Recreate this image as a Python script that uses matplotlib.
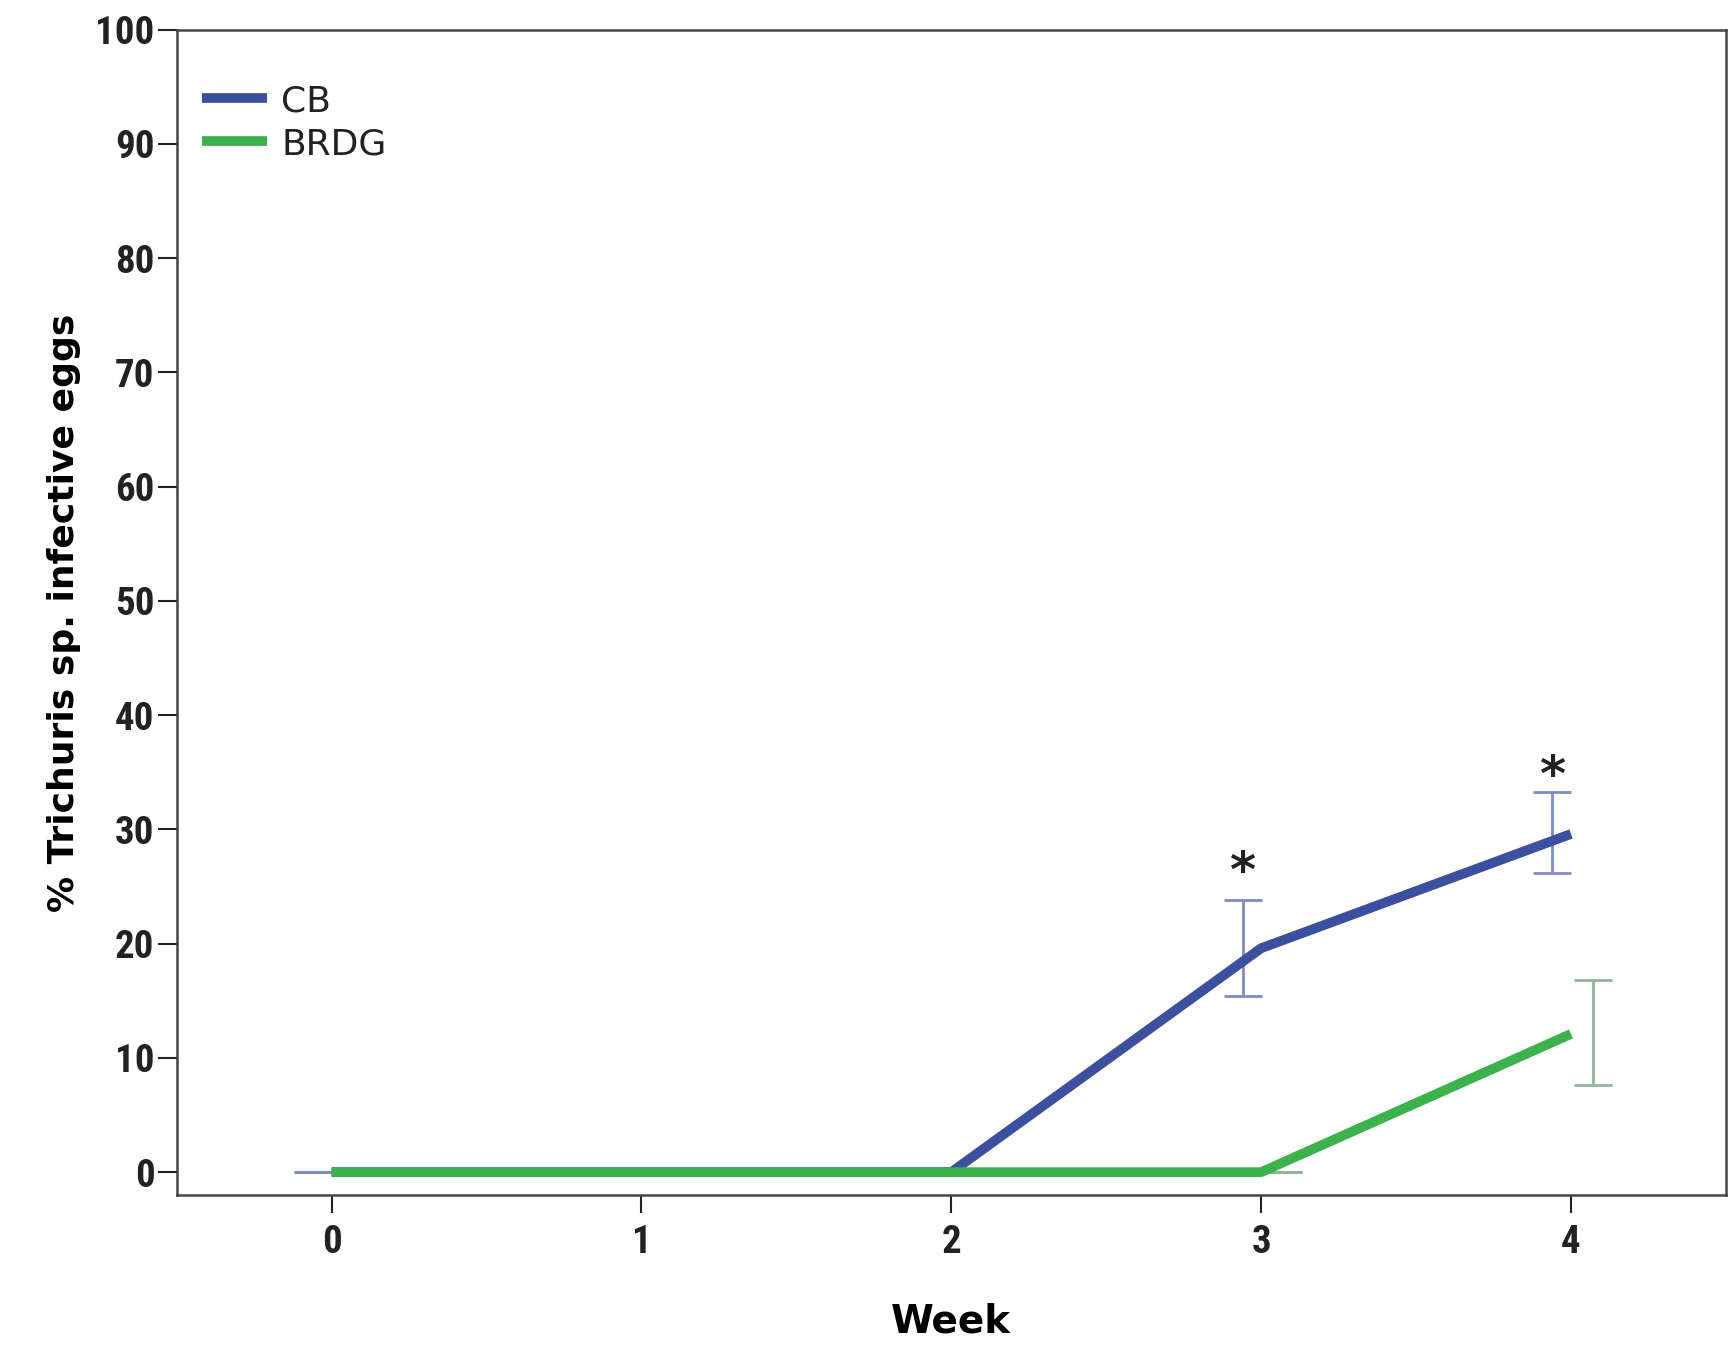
import matplotlib.pyplot as plt
import numpy as np
from matplotlib import font_manager

names = {f.name for f in font_manager.fontManager.ttflist}
narrow = [n for n in ['Liberation Sans Narrow', 'Roboto Condensed',
                      'Open Sans Condensed'] if n in names]
plt.rcParams['font.family'] = ['DejaVu Sans']

weeks = [0, 1, 2, 3, 4]
cb = [0, 0, 0, 19.6, 29.6]
cb_lo = [0, 0, 0, 15.4, 26.2]
cb_hi = [0, 0, 0, 23.8, 33.3]
brdg = [0, 0, 0, 0, 12.1]
brdg_lo = [0, 0, 0, 0, 7.6]
brdg_hi = [0, 0, 0, 0, 16.8]
stars_x = [3, 4]
stars_y = [26.2, 34.6]

fig = plt.figure(figsize=(17.32, 13.48), dpi=100)
ax = fig.add_axes([0.102, 0.1135, 0.8945, 0.8645])

x = np.array(weeks, dtype=float)
cb = np.array(cb)
brdg = np.array(brdg)
cb_err = [cb - np.array(cb_lo), np.array(cb_hi) - cb]
brdg_err = [brdg - np.array(brdg_lo), np.array(brdg_hi) - brdg]

ax.errorbar(x - 0.06, cb, yerr=cb_err, fmt='none', ecolor='#7f8cc4',
            elinewidth=2, capsize=14, capthick=2, zorder=2)
ax.errorbar(x + 0.07, brdg, yerr=brdg_err, fmt='none', ecolor='#8fb59a',
            elinewidth=2, capsize=14, capthick=2, zorder=2)
ax.plot(x, cb, color='#3d4f9f', lw=7, label='CB', zorder=3,
        solid_capstyle='butt')
ax.plot(x, brdg, color='#3bb24c', lw=7, label='BRDG', zorder=4,
        solid_capstyle='butt')

for sx, sy in zip(stars_x, stars_y):
    ax.text(sx - 0.06, sy, '*', ha='center', va='center',
            fontsize=36, fontweight='bold', color='#222222')

ax.set_xlim(-0.5, 4.5)
ax.set_ylim(-2, 100)
ax.set_xticks(weeks)
ax.set_yticks(np.arange(0, 101, 10))
ax.tick_params(axis='both', direction='out', width=1.5,
               labelsize=28, colors='#222222')
ax.tick_params(axis='x', length=13, pad=8)
ax.tick_params(axis='y', length=14, pad=2)
for lab in ax.get_xticklabels() + ax.get_yticklabels():
    lab.set_fontweight('bold')
    lab.set_family(narrow + ['DejaVu Sans'])
    lab.set_fontstretch('condensed')

ax.set_xlabel('Week', fontsize=28, fontweight='bold', labelpad=30)
ax.set_ylabel('% Trichuris sp. infective eggs', fontsize=26,
              fontweight='bold', labelpad=10)

leg = ax.legend(loc='upper left', frameon=False, fontsize=26,
                handlelength=1.8, handletextpad=0.4, labelspacing=0.25,
                borderaxespad=0.3, bbox_to_anchor=(0.0, 0.975))
for t in leg.get_texts():
    t.set_color('#222222')

for s in ax.spines.values():
    s.set_linewidth(1.8)
    s.set_color('#444444')

fig.savefig('out.png', dpi=100)
